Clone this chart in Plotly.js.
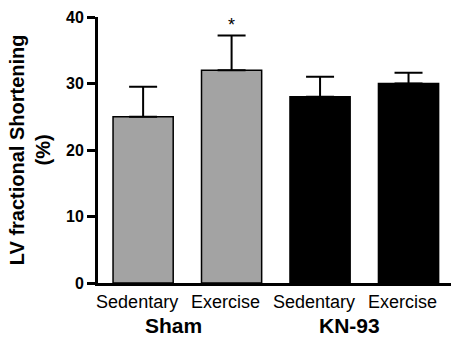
<!DOCTYPE html>
<html>
<head>
<meta charset="utf-8">
<script src="https://cdn.plot.ly/plotly-3.0.1.min.js"></script>
<style>html,body{margin:0;padding:0;background:#fff;}#chart{width:451px;height:338px;}</style>
</head>
<body>
<div id="chart"></div>
<script>
const positions = [0, 1, 2, 3];
const tickLabels = ["Sedentary", "Exercise", "Sedentary", "Exercise"];
const groupLabels = ["Sham", "KN-93"];
const groupCenters = [0.34, 2.33];
const fsValues = [25, 32, 28, 30];
const fsErrors = [4.5, 5.2, 3.0, 1.6];
const barColors = ["#a3a3a3", "#a3a3a3", "#000000", "#000000"];
const sigIndex = 1;

const font = "Liberation Sans, Arial, sans-serif";

const trace = {
  type: "bar",
  x: positions,
  y: fsValues,
  width: 0.68,
  marker: {color: barColors, line: {color: "#000", width: 1.5}},
  error_y: {type: "data", symmetric: false, array: fsErrors, arrayminus: fsErrors.map(() => 0),
            color: "#000", thickness: 2, width: 14},
  hoverinfo: "none"
};

const annotations = [];
groupLabels.forEach((g, i) => annotations.push({
  text: g, x: groupCenters[i], xref: "x", y: -0.158, yref: "paper",
  xanchor: "center", yanchor: "middle", showarrow: false,
  font: {family: font, size: 21, color: "#000", weight: "bold"}
}));
annotations.push({
  text: "*", x: positions[sigIndex], xref: "x", y: fsValues[sigIndex] + fsErrors[sigIndex] + 1.6, yref: "y",
  xanchor: "center", yanchor: "middle", showarrow: false,
  font: {family: font, size: 18, color: "#000"}
});
annotations.push({
  text: "LV fractional Shortening<br>(%)", x: -0.192, xref: "paper", y: 0.5, yref: "paper",
  xanchor: "center", yanchor: "middle", textangle: -90, showarrow: false,
  font: {family: font, size: 20, color: "#000", weight: "bold"}
});

const layout = {
  width: 451, height: 338,
  margin: {l: 98, r: 0, t: 17, b: 55, pad: 0},
  paper_bgcolor: "#fff", plot_bgcolor: "#fff",
  showlegend: false,
  xaxis: {
    range: [-0.51, 3.48], tickvals: positions, ticktext: tickLabels,
    showline: true, linecolor: "#000", linewidth: 3, showgrid: false, zeroline: false,
    ticks: "", ticklabelshift: -6,
    tickfont: {family: font, size: 18, color: "#000"}, fixedrange: true
  },
  yaxis: {
    range: [0, 40], tickvals: [0, 10, 20, 30, 40],
    showline: true, linecolor: "#000", linewidth: 3, showgrid: false, zeroline: false,
    ticks: "outside", ticklen: 8, tickwidth: 3, tickcolor: "#000",
    tickfont: {family: font, size: 16, color: "#000", weight: "bold"}, fixedrange: true
  },
  annotations: annotations
};

Plotly.newPlot("chart", [trace], layout, {displayModeBar: false, staticPlot: true});
</script>
</body>
</html>
